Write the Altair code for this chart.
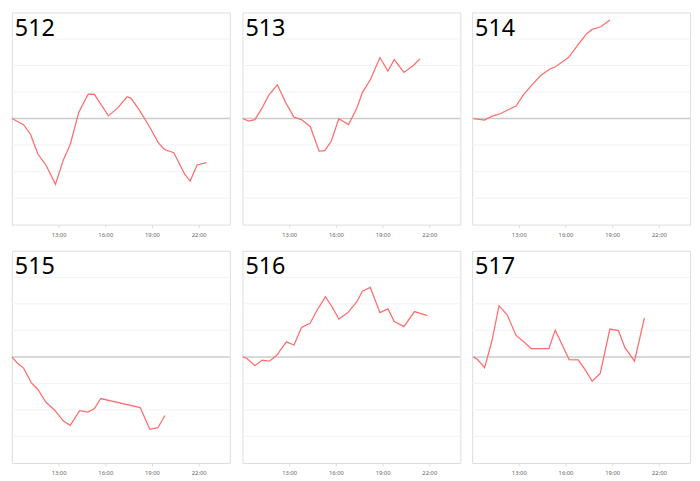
import altair as alt
import pandas as pd

names = ["512", "513", "514", "515", "516", "517"]

hours_512 = [10.0, 10.75, 11.2, 11.66, 12.2, 12.8, 13.3, 13.75, 14.3, 14.9, 15.3, 16.2, 16.8, 17.4, 17.66, 18.2, 18.86, 19.4, 19.8, 20.4, 21.1, 21.45, 21.9, 22.5]
vals_512 = [0, -0.23, -0.6, -1.33, -1.77, -2.48, -1.57, -0.97, 0.24, 0.92, 0.91, 0.1, 0.4, 0.82, 0.76, 0.31, -0.33, -0.91, -1.17, -1.29, -2.1, -2.36, -1.75, -1.66]

hours_513 = [10.02, 10.39, 10.8, 11.26, 11.69, 12.24, 12.76, 13.31, 13.79, 14.36, 14.92, 15.29, 15.7, 16.19, 16.81, 17.35, 17.7, 18.21, 18.83, 19.34, 19.75, 20.37, 20.99, 21.4]
vals_513 = [0, -0.1, -0.04, 0.4, 0.88, 1.27, 0.62, 0.05, -0.04, -0.31, -1.23, -1.21, -0.86, -0.01, -0.23, 0.4, 0.98, 1.46, 2.3, 1.79, 2.22, 1.74, 2.01, 2.25]

hours_514 = [10.08, 10.8, 11.26, 11.84, 12.35, 12.82, 13.32, 13.86, 14.41, 14.97, 15.38, 16.2, 16.82, 17.36, 17.71, 18.27, 18.85]
vals_514 = [0, -0.06, 0.08, 0.19, 0.34, 0.47, 0.91, 1.28, 1.62, 1.86, 1.96, 2.31, 2.8, 3.2, 3.36, 3.46, 3.72]

hours_515 = [10.0, 10.33, 10.75, 11.24, 11.66, 12.19, 12.75, 13.31, 13.75, 14.35, 14.89, 15.3, 15.71, 18.24, 18.86, 19.38, 19.83]
vals_515 = [0, -0.22, -0.42, -0.97, -1.22, -1.71, -2.01, -2.42, -2.58, -2.03, -2.08, -1.95, -1.57, -1.91, -2.73, -2.67, -2.21]

hours_516 = [10.02, 10.29, 10.8, 11.26, 11.73, 12.2, 12.82, 13.31, 13.79, 14.34, 14.81, 15.33, 15.74, 16.19, 16.77, 17.35, 17.7, 18.21, 18.83, 19.34, 19.75, 20.37, 21.05, 21.87]
vals_516 = [0, -0.06, -0.33, -0.12, -0.16, 0.06, 0.57, 0.45, 1.11, 1.27, 1.78, 2.27, 1.9, 1.43, 1.67, 2.08, 2.48, 2.62, 1.67, 1.81, 1.33, 1.14, 1.71, 1.56]

hours_517 = [10.08, 10.35, 10.8, 11.26, 11.73, 12.25, 12.82, 13.32, 13.79, 14.93, 15.34, 15.79, 16.23, 16.82, 17.3, 17.71, 18.23, 18.85, 19.4, 19.81, 20.43, 21.07]
vals_517 = [0, -0.1, -0.41, 0.57, 1.93, 1.59, 0.81, 0.57, 0.31, 0.31, 1.01, 0.45, -0.1, -0.11, -0.52, -0.92, -0.62, 1.05, 0.99, 0.36, -0.16, 1.47]

series = {
    "512": (hours_512, vals_512),
    "513": (hours_513, vals_513),
    "514": (hours_514, vals_514),
    "515": (hours_515, vals_515),
    "516": (hours_516, vals_516),
    "517": (hours_517, vals_517),
}

tick_hours = [13, 16, 19, 22]
grid_vals = [-3, -2, -1, 1, 2, 3]
zero_val = [0]

W, H = 224, 218


def panel(name):
    hrs, vals = series[name]
    df = pd.DataFrame({"hour": hrs, "value": vals})
    x = alt.X("hour:Q",
              scale=alt.Scale(domain=[10, 24], nice=False),
              axis=alt.Axis(values=tick_hours, labelExpr="datum.value + ':00'",
                            grid=False, domain=False, ticks=True, tickSize=3,
                            tickColor="#dddddd", labelFontSize=6, labelColor="#666666",
                            labelFont="Noto Sans", labelPadding=4, title=None))
    y = alt.Y("value:Q", scale=alt.Scale(domain=[-4, 4], nice=False), axis=None)
    grid = alt.Chart(pd.DataFrame({"value": grid_vals})).mark_rule(
        color="#f3f3f3", strokeWidth=1
    ).encode(y=alt.Y("value:Q", axis=None))
    zero = alt.Chart(pd.DataFrame({"value": zero_val})).mark_rule(
        color="#cccccc", strokeWidth=1.6
    ).encode(y=alt.Y("value:Q", axis=None))
    line = alt.Chart(df).mark_line(color="#ff6e6e", strokeWidth=1.3).encode(x=x, y=y)
    label = alt.Chart(pd.DataFrame({"name": [name]})).mark_text(
        align="left", baseline="alphabetic", fontSize=24, font="Noto Sans", color="#000000"
    ).encode(text="name:N", x=alt.value(3), y=alt.value(24))
    return alt.layer(grid, zero, line, label).properties(width=W, height=H)


row1 = alt.hconcat(*[panel(n) for n in names[:3]], spacing=8)
row2 = alt.hconcat(*[panel(n) for n in names[3:]], spacing=8)
chart = alt.vconcat(row1, row2, spacing=12).properties(
    padding={"left": 0, "top": -3, "right": 0, "bottom": 0}
).configure_view(
    stroke="#e0e0e0", strokeWidth=1.5
).configure(background="white")

chart.save("out.html", embed_options={"renderer": "svg", "actions": False})
